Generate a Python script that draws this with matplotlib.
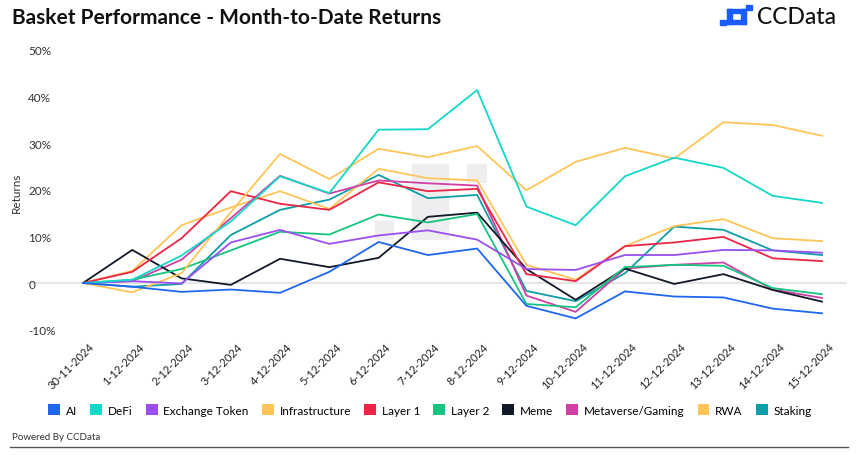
import matplotlib
matplotlib.use('Agg')
import matplotlib.pyplot as plt
import matplotlib.transforms as mtransforms
from matplotlib.patches import Rectangle, Patch

plt.rcParams['font.family'] = ['Lato', 'DejaVu Sans']

# Dates on the x axis
dates = ['30-11-2024', '1-12-2024', '2-12-2024', '3-12-2024', '4-12-2024', '5-12-2024',
         '6-12-2024', '7-12-2024', '8-12-2024', '9-12-2024', '10-12-2024', '11-12-2024',
         '12-12-2024', '13-12-2024', '14-12-2024', '15-12-2024']

# Month-to-date returns (%)
ai = [0, -0.8, -1.9, -1.4, -2.1, 2.4, 8.8, 6.0, 7.4, -4.9, -7.6, -1.8, -2.9, -3.1, -5.5, -6.5]
defi = [0, 0.7, 5.9, 13.2, 22.9, 19.3, 32.9, 33.0, 41.4, 16.4, 12.4, 22.9, 26.9, 24.7, 18.7, 17.2]
exchange_token = [0, 0.4, -0.1, 8.7, 11.4, 8.4, 10.2, 11.3, 9.3, 3.0, 2.8, 6.0, 6.0, 7.1, 7.0, 6.5]
infrastructure = [0, -2.0, 2.1, 15.2, 27.7, 22.3, 28.8, 27.0, 29.4, 19.9, 26.0, 29.0, 26.7, 34.5, 33.9, 31.6]
layer_1 = [0, 2.4, 9.6, 19.7, 17.0, 15.7, 21.6, 19.7, 20.2, 1.9, 0.4, 7.9, 8.7, 9.9, 5.3, 4.7]
layer_2 = [0, 0.7, 3.0, 7.0, 11.0, 10.4, 14.7, 13.0, 14.8, -4.5, -5.2, 3.4, 3.9, 3.7, -1.1, -2.4]
meme = [0, 7.1, 1.0, -0.4, 5.2, 3.4, 5.4, 14.2, 15.1, 3.0, -3.6, 3.1, -0.2, 1.9, -1.5, -4.0]
metaverse = [0, 0.4, 5.0, 13.9, 23.0, 19.2, 22.0, 21.4, 20.9, -2.7, -6.2, 3.1, 3.9, 4.4, -1.4, -3.2]
rwa = [0, 2.6, 12.4, 16.2, 19.7, 15.9, 24.5, 22.5, 22.0, 3.9, 0.7, 7.9, 12.2, 13.7, 9.6, 9.0]
staking = [0, -0.8, -0.2, 10.3, 15.7, 17.9, 23.2, 18.2, 18.9, -1.7, -3.9, 2.1, 12.1, 11.4, 7.0, 6.0]

names = ['AI', 'DeFi', 'Exchange Token', 'Infrastructure', 'Layer 1', 'Layer 2',
         'Meme', 'Metaverse/Gaming', 'RWA', 'Staking']
series = [ai, defi, exchange_token, infrastructure, layer_1, layer_2, meme, metaverse, rwa, staking]
colors = ['#1f66f0', '#13d8c8', '#9b4ff0', '#ffc557', '#ec2546', '#14c47f',
          '#111827', '#cf3fa6', '#ffc557', '#0f9ea5']

W, H = 859, 456
fig = plt.figure(figsize=(W / 100, H / 100), dpi=100)
ax = fig.add_axes([27 / W, 1 - 337.6 / H, 820 / W, 293.6 / H])

# faint watermark behind the lines
for (x0, y0, x1, y1) in [(412, 165, 448, 240), (467, 165, 486, 183), (375, 222, 393, 240)]:
    ax.add_patch(Rectangle((x0 / W, 1 - y1 / H), (x1 - x0) / W, (y1 - y0) / H,
                           transform=fig.transFigure, color='#eeeef1', zorder=0))

x = list(range(len(dates)))
ax.axhline(0, color='#e6e6e6', lw=1.6, zorder=1)
for vals, name, c in reversed(list(zip(series, names, colors))):
    ax.plot(x, vals, color=c, lw=1.3, label=name, zorder=3)

ax.set_xlim(-1.137, 15.507)
ax.set_ylim(-11.5, 51.5)
ax.set_yticks([-10, 0, 10, 20, 30, 40, 50])
ax.set_yticklabels(['-10%', '0', '10%', '20%', '30%', '40%', '50%'])
ax.tick_params(axis='y', length=0, pad=-1, labelsize=8.5, labelcolor='#333333')
for lab in ax.get_yticklabels():
    lab.set_horizontalalignment('left')

ax.set_xticks(x)
ax.set_xticklabels(dates, rotation=45, ha='right', rotation_mode='anchor', fontsize=8,
                   color='#222222')
ax.tick_params(axis='x', length=0, pad=3)
offset = mtransforms.ScaledTranslation(6 / 100, 0, fig.dpi_scale_trans)
for lab in ax.get_xticklabels():
    lab.set_transform(lab.get_transform() + offset)

for s in ax.spines.values():
    s.set_visible(False)
ax.patch.set_visible(False)

fig.text(16 / W, 1 - 193 / H, 'Returns', rotation=90, ha='center', va='center',
         fontsize=8.5, color='#333333')

# title and logo
fig.text(12 / W, 1 - 18 / H, 'Basket Performance - Month-to-Date Returns', fontsize=15,
         fontweight='bold', color='#111111', va='center', ha='left')
fig.text(757 / W, 1 - 18 / H, 'CCData', fontsize=16.5, fontweight='medium', color='#111111',
         va='center', ha='left')
for (x0, y0, x1, y1) in [(746, 6, 752, 11), (720, 21, 726, 26), (727, 10, 746, 14),
                         (727, 21, 746, 25), (727, 10, 732, 25), (741, 10, 746, 25)]:
    fig.patches.append(Rectangle((x0 / W, 1 - y1 / H), (x1 - x0) / W, (y1 - y0) / H,
                                 transform=fig.transFigure, color='#1a5cff', zorder=2))

# legend
handles = [Patch(facecolor=c, edgecolor='none', label=n) for n, c in zip(names, colors)]
fig.legend(handles=handles, loc='center', bbox_to_anchor=(430 / W, 1 - 411 / H), ncol=10,
           frameon=False, fontsize=8.5, handlelength=1.0, handleheight=1.0,
           handletextpad=0.5, columnspacing=1.1, borderaxespad=0)

fig.text(12 / W, 1 - 438 / H, 'Powered By CCData', fontsize=7, color='#333333',
         va='center', ha='left')
fig.add_artist(plt.Line2D([10 / W, 848 / W], [1 - 448 / H, 1 - 448 / H],
                          transform=fig.transFigure, color='#555555', lw=1))

fig.savefig('out.png', dpi=100)
